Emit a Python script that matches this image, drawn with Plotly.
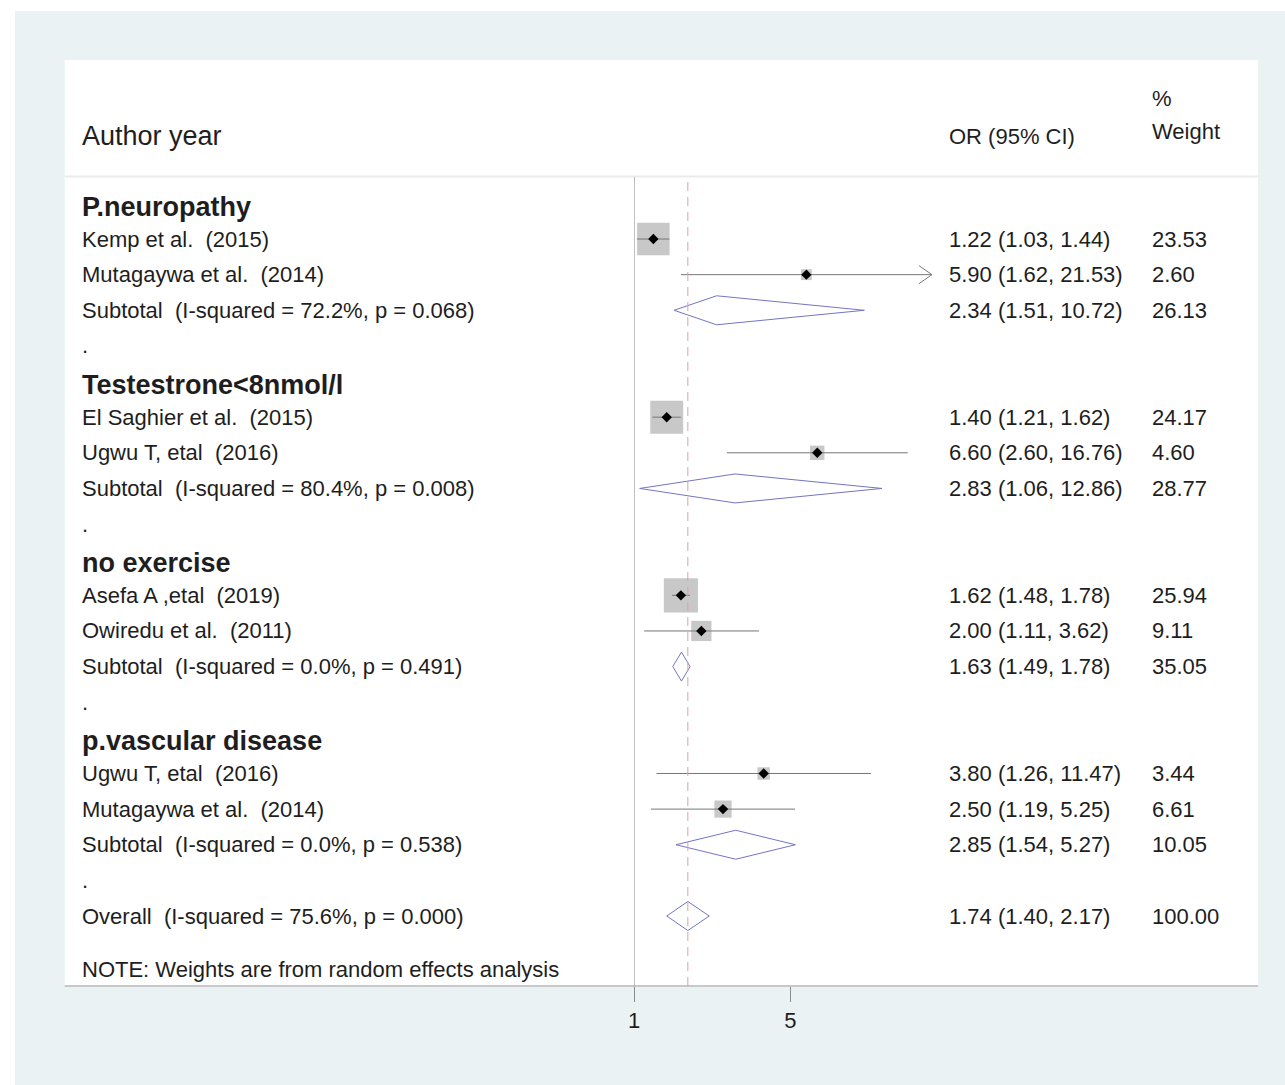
import math
import plotly.graph_objects as go

# ---- data -------------------------------------------------------------
group_names = ["P.neuropathy", "Testestrone&lt;8nmol/l", "no exercise", "p.vascular disease"]
study_labels = [
    ["Kemp et al.  (2015)", "Mutagaywa et al.  (2014)"],
    ["El Saghier et al.  (2015)", "Ugwu T, etal  (2016)"],
    ["Asefa A ,etal  (2019)", "Owiredu et al.  (2011)"],
    ["Ugwu T, etal  (2016)", "Mutagaywa et al.  (2014)"],
]
study_or = [[1.22, 5.90], [1.40, 6.60], [1.62, 2.00], [3.80, 2.50]]
study_lo = [[1.03, 1.62], [1.21, 2.60], [1.48, 1.11], [1.26, 1.19]]
study_hi = [[1.44, 21.53], [1.62, 16.76], [1.78, 3.62], [11.47, 5.25]]
study_wt = [[23.53, 2.60], [24.17, 4.60], [25.94, 9.11], [3.44, 6.61]]

sub_i2 = [72.2, 80.4, 0.0, 0.0]
sub_p = [0.068, 0.008, 0.491, 0.538]
sub_or = [2.34, 2.83, 1.63, 2.85]
sub_lo = [1.51, 1.06, 1.49, 1.54]
sub_hi = [10.72, 12.86, 1.78, 5.27]

overall_i2 = 75.6
overall_p = 0.000
overall_or = 1.74
overall_lo = 1.40
overall_hi = 2.17

x_ticks = [1, 5]
x_max = 21.5          # right end of the OR axis; longer CIs get an arrow
note_text = "NOTE: Weights are from random effects analysis"

# ---- geometry ---------------------------------------------------------
W, H = 1285, 1085
X_ONE_PX = 631                     # pixel column of OR = 1
PX_PER_DECADE = 224.6
X_RIGHT_PX = X_ONE_PX + PX_PER_DECADE * math.log10(x_max)
PLOT_TOP, PLOT_BOTTOM = 177, 986
ROW_PX = 35.63
ROW0_PX = 203.4
Y_LO = -(ROW0_PX - PLOT_TOP) / ROW_PX
Y_HI = Y_LO + (PLOT_BOTTOM - PLOT_TOP) / ROW_PX

COL_LABEL, COL_OR, COL_WT = 74, 945, 1149
FONT = "Liberation Sans, Arial, Helvetica, sans-serif"
TXT = "#1e1e1e"
BG = "#eaf2f3"


def px(p):
    return p / W


def py(p):
    return 1 - p / H


def sp(s):
    return s.replace("  ", " \u00a0")


def fmt_ci(v, lo, hi):
    return f"{v:.2f} ({lo:.2f}, {hi:.2f})"


annotations = []


def add_text(x_px, y, text, size=22, bold=False, yref="y"):
    annotations.append(dict(
        x=px(x_px), xref="paper", y=y, yref=yref, text=sp(text),
        xanchor="left", yanchor="middle", showarrow=False,
        font=dict(family=FONT, size=size, color=TXT,
                  weight="bold" if bold else "normal"),
    ))


# ---- build rows -------------------------------------------------------
ci_x, ci_y = [], []
arrow_x, arrow_y = [], []
box_x, box_y, box_s = [], [], []
dia_x, dia_y = [], []
DIA_HALF = 14.5 / ROW_PX
ARROW_BACK = 10 ** (-13 / PX_PER_DECADE)
ARROW_HALF = 9 / ROW_PX


def add_diamond(v, lo, hi, y):
    dia_x.extend([lo, v, hi, v, lo, None])
    dia_y.extend([y, y - DIA_HALF, y, y + DIA_HALF, y, None])


row = 0
for g, name in enumerate(group_names):
    add_text(COL_LABEL, row + 0.1, name, size=27, bold=True)
    row += 1
    for k, lab in enumerate(study_labels[g]):
        v, lo, hi, w = study_or[g][k], study_lo[g][k], study_hi[g][k], study_wt[g][k]
        end = min(hi, x_max)
        ci_x.extend([lo, end, None])
        ci_y.extend([row, row, None])
        if hi >= x_max:
            arrow_x.extend([end * ARROW_BACK, end, end * ARROW_BACK, None])
            arrow_y.extend([row - ARROW_HALF, row, row + ARROW_HALF, None])
        box_x.append(v)
        box_y.append(row)
        box_s.append(6.7 * math.sqrt(w))
        add_text(COL_LABEL, row, lab)
        add_text(COL_OR, row, fmt_ci(v, lo, hi))
        add_text(COL_WT, row, f"{w:.2f}")
        row += 1
    add_diamond(sub_or[g], sub_lo[g], sub_hi[g], row)
    add_text(COL_LABEL, row, f"Subtotal  (I-squared = {sub_i2[g]:.1f}%, p = {sub_p[g]:.3f})")
    add_text(COL_OR, row, fmt_ci(sub_or[g], sub_lo[g], sub_hi[g]))
    add_text(COL_WT, row, f"{sum(study_wt[g]):.2f}")
    row += 1
    add_text(COL_LABEL, row, ".")
    row += 1

add_diamond(overall_or, overall_lo, overall_hi, row)
add_text(COL_LABEL, row, f"Overall  (I-squared = {overall_i2:.1f}%, p = {overall_p:.3f})")
add_text(COL_OR, row, fmt_ci(overall_or, overall_lo, overall_hi))
add_text(COL_WT, row, f"{sum(sum(w) for w in study_wt):.2f}")
add_text(COL_LABEL, row + 1.49, note_text)

# column headers
add_text(COL_LABEL, py(136), "Author year", size=27, yref="paper")
add_text(COL_OR, py(136), "OR (95% CI)", yref="paper")
add_text(COL_WT, py(98), "%", yref="paper")
add_text(COL_WT, py(132), "Weight", yref="paper")

# ---- traces -----------------------------------------------------------
fig = go.Figure()
fig.add_trace(go.Scatter(x=box_x, y=box_y, mode="markers", hoverinfo="skip",
                         marker=dict(symbol="square", size=box_s, color="#b0b0b0",
                                     line=dict(width=0))))
fig.add_trace(go.Scatter(x=ci_x, y=ci_y, mode="lines", hoverinfo="skip",
                         line=dict(color="#767676", width=1)))
fig.add_trace(go.Scatter(x=arrow_x, y=arrow_y, mode="lines", hoverinfo="skip",
                         line=dict(color="#767676", width=1)))
fig.add_trace(go.Scatter(x=box_x, y=box_y, mode="markers", hoverinfo="skip",
                         marker=dict(symbol="diamond", size=8, color="black")))
fig.add_trace(go.Scatter(x=dia_x, y=dia_y, mode="lines", hoverinfo="skip",
                         line=dict(color="#7474c4", width=1)))

shapes = [
    # light outer region and white plot area
    dict(type="rect", xref="paper", yref="paper", x0=px(9), x1=1, y0=0, y1=py(11),
         fillcolor=BG, line=dict(width=0), layer="below"),
    dict(type="rect", xref="paper", yref="paper", x0=px(59), x1=px(1258),
         y0=py(986), y1=py(60), fillcolor="white", line=dict(width=0), layer="below"),
    # header separator and bottom axis line
    dict(type="line", xref="paper", yref="paper", x0=px(59), x1=px(1258),
         y0=py(176.5), y1=py(176.5), line=dict(color="#ebebeb", width=2)),
    dict(type="line", xref="paper", yref="paper", x0=px(59), x1=px(1258),
         y0=py(986), y1=py(986), line=dict(color="#c6c8cb", width=2)),
    # null line
    dict(type="line", xref="x", yref="paper", x0=1, x1=1,
         y0=py(986), y1=py(PLOT_TOP), line=dict(color="#8c8c8c", width=1)),
    # overall effect
    dict(type="line", xref="x", yref="paper", x0=overall_or, x1=overall_or,
         y0=py(986), y1=py(181), line=dict(color="#dba1a8", width=1, dash="9px,6px")),
]

fig.update_layout(
    width=W, height=H, autosize=False,
    margin=dict(l=0, r=0, t=0, b=0),
    paper_bgcolor="white", plot_bgcolor="rgba(0,0,0,0)",
    showlegend=False,
    shapes=shapes,
    annotations=annotations,
    xaxis=dict(type="log", domain=[px(X_ONE_PX), px(X_RIGHT_PX)],
               range=[0, math.log10(x_max)],
               tickvals=x_ticks, ticktext=[str(t) for t in x_ticks],
               ticks="outside", ticklen=15, tickwidth=1, tickcolor="#8c8c8c",
               showgrid=False, zeroline=False, showline=False,
               tickfont=dict(family=FONT, size=22, color=TXT),
               fixedrange=True),
    yaxis=dict(domain=[py(PLOT_BOTTOM), py(PLOT_TOP)], range=[Y_HI, Y_LO],
               visible=False, fixedrange=True),
)

fig.write_html("out.html")
